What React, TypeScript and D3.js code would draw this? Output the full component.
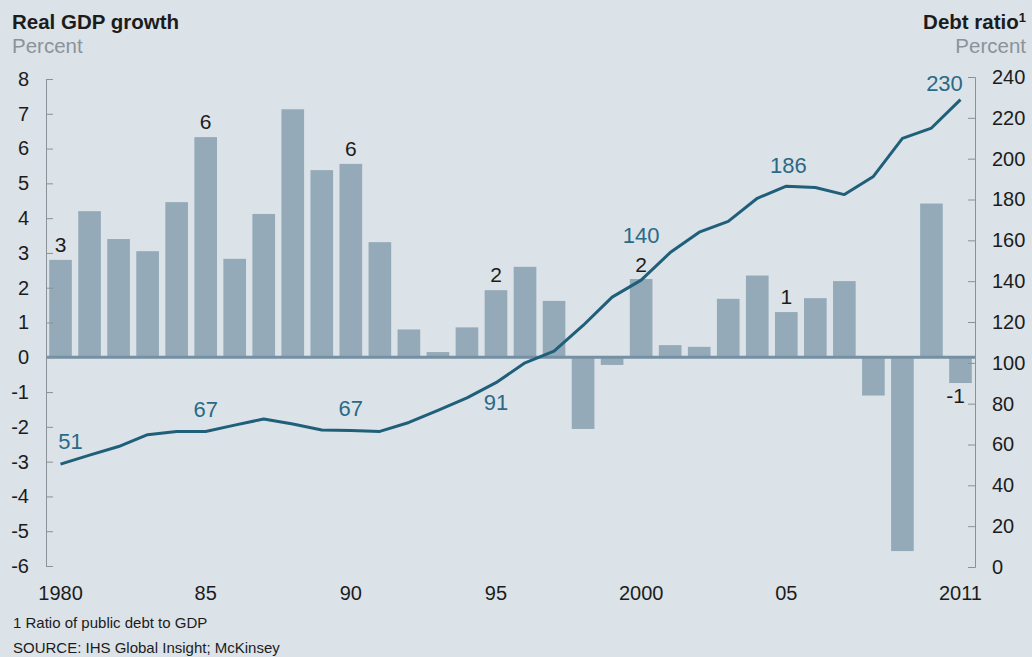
import React, { useEffect, useRef } from 'react';
import * as d3 from 'd3';

const years = [
  1980, 1981, 1982, 1983, 1984, 1985, 1986, 1987, 1988, 1989, 1990, 1991, 1992, 1993, 1994, 1995,
  1996, 1997, 1998, 1999, 2000, 2001, 2002, 2003, 2004, 2005, 2006, 2007, 2008, 2009, 2010, 2011,
];

// real GDP growth, percent (bars, left axis)
const growth = [
  2.8, 4.2, 3.4, 3.05, 4.46, 6.33, 2.83, 4.12, 7.13, 5.38, 5.56, 3.31, 0.8, 0.15, 0.86, 1.93,
  2.6, 1.62, -2.06, -0.22, 2.25, 0.35, 0.3, 1.68, 2.35, 1.3, 1.7, 2.19, -1.1, -5.57, 4.42, -0.74,
];

// public debt to GDP, percent (line, right axis)
const debt = [
  50.4, 54.8, 59, 64.8, 66.4, 66.4, 69.5, 72.5, 70, 67.1, 66.9, 66.4, 70.8, 76.7, 82.8, 90.3,
  100, 105.7, 118.3, 132.2, 140.5, 154, 164, 169.3, 180.6, 186.5, 185.9, 182.4, 191.3, 209.9, 215, 228.9,
];

const leftTicks = [-6, -5, -4, -3, -2, -1, 0, 1, 2, 3, 4, 5, 6, 7, 8];
const rightTicks = [0, 20, 40, 60, 80, 100, 120, 140, 160, 180, 200, 220, 240];
const xTickYears = [1980, 1985, 1990, 1995, 2000, 2005, 2011];
const xTickLabels = ['1980', '85', '90', '95', '2000', '05', '2011'];

const growthLabelYears = [1980, 1985, 1990, 1995, 2000, 2005, 2011];
const growthLabelTexts = ['3', '6', '6', '2', '2', '1', '-1'];
const debtLabelYears = [1980, 1985, 1990, 1995, 2000, 2005, 2011];
const debtLabelTexts = ['51', '67', '67', '91', '140', '186', '230'];

// label nudges (px) relative to the mark
const growthLabelOffsets = [[0, -8], [0, -8], [0, -8], [0, -8], [0, -7], [0, -8], [-5, 20]];
const debtLabelOffsets = [[10, -15], [0, -14], [0, -14], [0, 27], [0, -37], [2, -13], [-16, -9]];

const W = 1032;
const H = 657;
const FONT = "'Liberation Sans', Arial, sans-serif";
const BG = '#dbe2e8';
const BAR = '#95aab8';
const LINE = '#1f5f79';
const LINE_TEXT = '#2a6a86';
const AXIS = '#8a9198';
const TEXT = '#1c1c1c';

const App = () => {
  const svgRef = useRef<SVGSVGElement>(null);

  useEffect(() => {
    document.body.style.margin = '0';
    document.body.style.background = BG;

    const x = d3.scaleBand<number>().domain(years).range([46, 975]).paddingInner(0.22).paddingOuter(0.11);
    const yL = d3.scaleLinear().domain([-6, 8]).range([566, 79]);
    const yR = d3.scaleLinear().domain([0, 240]).range([567, 77]);
    const cx = (yr: number) => (x(yr) as number) + x.bandwidth() / 2;

    const svg = d3.select(svgRef.current);
    svg.selectAll('*').remove();

    svg.append('rect').attr('width', W).attr('height', H).attr('fill', BG);

    // titles
    svg.append('text').attr('x', 12).attr('y', 29).attr('font-size', 20.5).attr('font-weight', 'bold')
      .attr('fill', TEXT).text('Real GDP growth');
    svg.append('text').attr('x', 12).attr('y', 52.5).attr('font-size', 20.5).attr('fill', '#8b9298').text('Percent');
    const dt = svg.append('text').attr('x', 1026).attr('y', 29).attr('text-anchor', 'end')
      .attr('font-size', 20.5).attr('font-weight', 'bold').attr('fill', TEXT);
    dt.append('tspan').text('Debt ratio');
    dt.append('tspan').attr('font-size', 13).attr('dy', -7).text('1');
    svg.append('text').attr('x', 1026).attr('y', 52.5).attr('text-anchor', 'end').attr('font-size', 20.5)
      .attr('fill', '#8b9298').text('Percent');

    // bars
    svg.append('g').selectAll('rect').data(years).enter().append('rect')
      .attr('x', d => x(d) as number)
      .attr('width', x.bandwidth())
      .attr('y', (d, i) => Math.min(yL(growth[i]), yL(0)))
      .attr('height', (d, i) => Math.abs(yL(growth[i]) - yL(0)))
      .attr('fill', BAR);

    // zero line
    svg.append('line').attr('x1', 46).attr('x2', 975).attr('y1', yL(0)).attr('y2', yL(0))
      .attr('stroke', '#7690a3').attr('stroke-width', 3);

    // left axis
    const gl = svg.append('g').attr('transform', 'translate(46,0)')
      .call(d3.axisLeft(yL).tickValues(leftTicks).tickSize(-7).tickPadding(17).tickFormat(d3.format('d')));
    // right axis
    const gr = svg.append('g').attr('transform', 'translate(975,0)')
      .call(d3.axisRight(yR).tickValues(rightTicks).tickSize(-7).tickPadding(17));
    [gl, gr].forEach(g => {
      g.selectAll('path, line').attr('stroke', AXIS);
      g.selectAll('text').attr('font-size', 20).attr('font-family', FONT).attr('fill', TEXT);
    });
    gl.selectAll('text').text(d => String(d).replace('−', '-'));

    // x labels
    svg.append('g').selectAll('text').data(xTickYears).enter().append('text')
      .attr('x', d => cx(d)).attr('y', 600).attr('text-anchor', 'middle')
      .attr('font-size', 20).attr('fill', TEXT)
      .text((d, i) => xTickLabels[i]);

    // debt line
    const line = d3.line<number>().x((d, i) => cx(years[i])).y(d => yR(d));
    svg.append('path').datum(debt).attr('fill', 'none').attr('stroke', LINE).attr('stroke-width', 3)
      .attr('stroke-linejoin', 'round').attr('d', line);

    // bar labels
    svg.append('g').selectAll('text').data(growthLabelYears).enter().append('text')
      .attr('x', (d, i) => cx(d) + growthLabelOffsets[i][0])
      .attr('y', (d, i) => yL(growth[years.indexOf(d)]) + growthLabelOffsets[i][1])
      .attr('text-anchor', 'middle').attr('font-size', 21).attr('fill', TEXT)
      .text((d, i) => growthLabelTexts[i]);

    // debt labels
    svg.append('g').selectAll('text').data(debtLabelYears).enter().append('text')
      .attr('x', (d, i) => cx(d) + debtLabelOffsets[i][0])
      .attr('y', (d, i) => yR(debt[years.indexOf(d)]) + debtLabelOffsets[i][1])
      .attr('text-anchor', 'middle').attr('font-size', 22).attr('fill', LINE_TEXT)
      .text((d, i) => debtLabelTexts[i]);

    // footnotes
    svg.append('text').attr('x', 13).attr('y', 627.5).attr('font-size', 15).attr('fill', TEXT)
      .text('1 Ratio of public debt to GDP');
    svg.append('text').attr('x', 13).attr('y', 653).attr('font-size', 15).attr('fill', TEXT)
      .text('SOURCE: IHS Global Insight; McKinsey');
  }, []);

  return (
    <svg ref={svgRef} width={W} height={H} style={{ display: 'block', fontFamily: FONT }} />
  );
};

export default App;
